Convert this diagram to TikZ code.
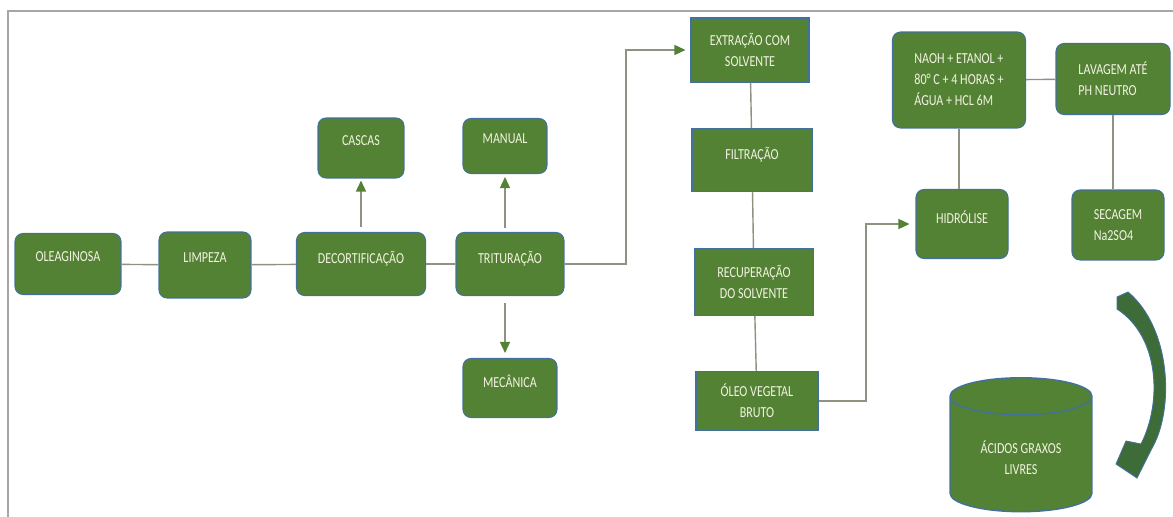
\documentclass[tikz,border=0pt]{standalone}
\usepackage{fontspec}
\setmainfont{Carlito}
\newfontfamily\boxfont{Carlito}[FakeStretch=0.79]
\usetikzlibrary{arrows.meta,shapes.geometric,positioning}
\definecolor{boxgreen}{RGB}{84,130,53}
\definecolor{boxedge}{RGB}{65,113,156}
\definecolor{boxtext}{RGB}{242,242,226}
\definecolor{linkgray}{RGB}{140,148,128}
\definecolor{framegray}{RGB}{166,166,166}
\definecolor{bendgreen}{RGB}{62,108,56}

\begin{document}
\begin{tikzpicture}[x=0.02cm, y=-0.02cm,
  rnode/.style={draw=boxedge, line width=0.6pt, fill=boxgreen,
                rounded corners=0.16cm, text=boxtext, align=center,
                font=\boxfont\fontsize{8.7}{12}\selectfont, inner sep=1pt},
  snode/.style={rnode, sharp corners},
  oneline/.style={text depth=0.28cm},
  lnk/.style={draw=linkgray, line width=0.8pt},
  arr/.style={lnk, -{Triangle[length=0.22cm, width=0.2cm, color=boxgreen]}},
]
  \useasboundingbox (0,0) rectangle (1173,517);
  \draw[framegray, line width=1.1pt] (8,517) -- (8,11) -- (1173,11);

  %% ---- preparo ----
  \node[rnode, oneline, minimum width=2.12cm, minimum height=1.22cm] (oleag) at (68,264) {OLEAGINOSA};
  \node[rnode, oneline, minimum width=1.84cm, minimum height=1.32cm] (limpeza) at (205,265) {LIMPEZA};
  \node[rnode, oneline, minimum width=2.58cm, minimum height=1.26cm] (decort) at (361,264) {DECORTIFICAÇÃO};
  \node[rnode, oneline, minimum width=2.16cm, minimum height=1.26cm] (trit) at (510,264) {TRITURAÇÃO};
  \node[rnode, oneline, minimum width=1.72cm, minimum height=1.2cm] (cascas) at (361,148) {CASCAS};
  \node[rnode, oneline, minimum width=1.68cm, minimum height=1.1cm] (manual) at (505,146) {MANUAL};
  \node[rnode, oneline, minimum width=1.88cm, minimum height=1.18cm] (mecanica) at (510,388) {MECÂNICA};

  \draw[lnk] (oleag) -- (limpeza);
  \draw[lnk] (limpeza) -- (decort);
  \draw[lnk] (decort) -- (trit);
  \draw[arr, shorten <=0.1cm, shorten >=0.04cm] (decort) -- (cascas);
  \draw[arr, shorten <=0.08cm, shorten >=0.06cm] (trit.north -| manual) -- (manual);
  \draw[arr, shorten <=0.14cm, shorten >=0.1cm] (trit.south -| manual) -- (mecanica.north -| manual);

  %% ---- extracao ----
  \node[snode, minimum width=2.36cm, minimum height=1.28cm] (extracao) at (750,50) {EXTRAÇÃO COM\\SOLVENTE};
  \node[snode, oneline, minimum width=2.4cm, minimum height=1.26cm] (filtracao) at (752,160) {FILTRAÇÃO};
  \node[snode, minimum width=2.38cm, minimum height=1.34cm] (recup) at (754,282) {RECUPERAÇÃO\\DO SOLVENTE};
  \node[snode, minimum width=2.44cm, minimum height=1.18cm] (oleo) at (757,401) {ÓLEO VEGETAL\\BRUTO};

  \coordinate (bend1) at (626,0);
  \draw[arr, shorten >=0.1cm] (trit.east) -- (trit.east -| bend1) |- (extracao);
  \draw[lnk] (extracao) -- (filtracao);
  \draw[lnk] (filtracao) -- (recup);
  \draw[lnk] (recup) -- (oleo);

  %% ---- hidrolise ----
  \node[rnode, minimum width=2.66cm, minimum height=1.92cm, align=left] (naoh) at (959,80)
    {NAOH + ETANOL +\\80° C + 4 HORAS +\\ÁGUA + HCL 6M};
  \node[rnode, oneline, minimum width=1.84cm, minimum height=1.38cm] (hidrolise) at (962,224) {HIDRÓLISE};
  \node[rnode, minimum width=2.28cm, minimum height=1.42cm, align=left] (lavagem) at (1113,79)
    {LAVAGEM ATÉ\\PH NEUTRO};
  \node[rnode, minimum width=1.84cm, minimum height=1.4cm, align=left] (secagem) at (1118,225)
    {SECAGEM\\Na2SO4};

  \coordinate (bend2) at (866,0);
  \draw[arr, shorten >=0.12cm] (oleo.east) -- (oleo.east -| bend2) |- (hidrolise);
  \draw[lnk] (naoh.south) -- (naoh.south |- hidrolise.north);
  \draw[lnk] (naoh) -- (lavagem);
  \draw[lnk] (lavagem.south) -- (lavagem.south |- secagem.north);

  %% ---- produto ----
  \node[cylinder, shape border rotate=90, aspect=0.4, draw=boxedge, line width=0.8pt,
        fill=boxgreen, text=boxtext, align=center, font=\boxfont\fontsize{8.7}{12}\selectfont,
        minimum width=2.84cm, minimum height=2.68cm] (acidos) at (1021,458)
    {ÁCIDOS GRAXOS\\LIVRES};
  \fill[bendgreen, draw=boxedge, line width=0.5pt]
    (1117,297) -- (1128,292)
    .. controls (1171,328) and (1175,410) .. (1151,450)
    -- (1137,478) -- (1116,464) -- (1126,441) -- (1141,444)
    .. controls (1162,403) and (1160,337) .. (1117,309) -- cycle;
\end{tikzpicture}
\end{document}
